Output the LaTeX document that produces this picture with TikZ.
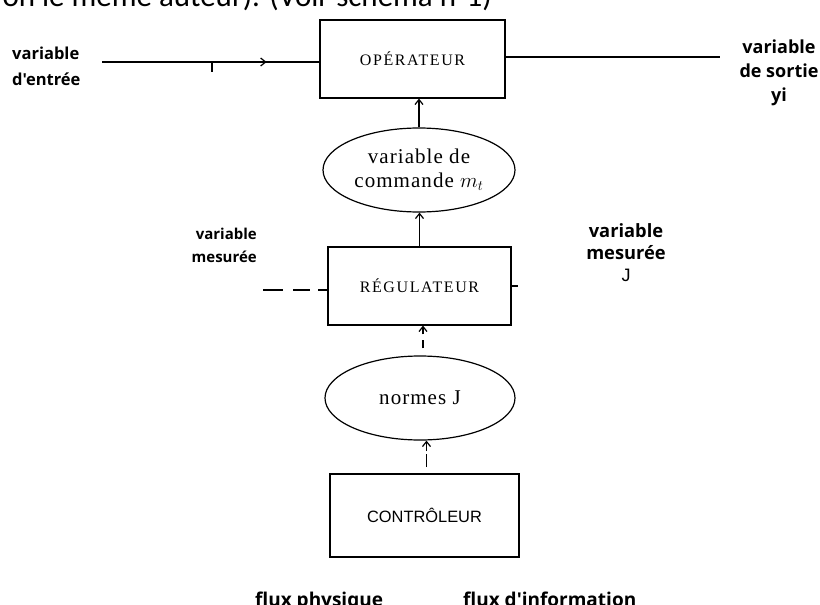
\documentclass[tikz,border=0pt]{standalone}
\usepackage{fontspec}
\setmainfont{Liberation Serif}
\newfontfamily\lblfont{Open Sans}
\newfontfamily\topfont{Carlito}
\newfontfamily\ctrlfont{Liberation Sans}
\newfontfamily\boxfont[LetterSpace=10]{Liberation Serif}
\newfontfamily\ellfont[LetterSpace=5]{Liberation Serif}
\usetikzlibrary{shapes.geometric,arrows.meta,decorations.markings}
\begin{document}
\begin{tikzpicture}[x=1pt,y=-1pt,
  scan/.style={line width=1.2pt},
  boxnode/.style={draw,scan,rectangle,inner sep=0pt,font=\boxfont\fontsize{16}{18}\selectfont},
  ellnode/.style={draw,scan,ellipse,inner sep=0pt,align=center,font=\ellfont\fontsize{21}{24}\selectfont},
  lbl/.style={inner sep=0pt},
  barb/.style={-{Straight Barb[length=5pt,width=8pt]}},
]
\clip (0,0) rectangle (820,605);
\fill[white] (0,0) rectangle (820,605);

% top clipped text
\node[lbl,anchor=base east,font=\topfont\fontsize{31}{36}\selectfont] (topTxt) at (492,6) {on le même auteur). (Voir schéma n°1)};

% blocks
\node[boxnode,minimum width=185pt,minimum height=78pt] (op) at (412.5,59) {OPÉRATEUR};
\node[ellnode,minimum width=192pt,minimum height=84pt] (cmd) at (419,170) {variable de\\commande $m_t$};
\node[boxnode,minimum width=183pt,minimum height=78pt] (reg) at (419.5,286) {RÉGULATEUR};
\node[ellnode,minimum width=190pt,minimum height=84pt] (norm) at (420,398) {normes J};
\node[draw,line width=2pt,rectangle,inner sep=0pt,minimum width=189pt,minimum height=83pt,font=\ctrlfont\fontsize{16.4}{20}\selectfont] (ctrl) at (424.5,515.5) {CONTRÔLEUR};

% input line
\coordinate (inL) at (102,62);
\coordinate (tickT) at (212,62);
\coordinate (tickB) at (212,72);
\draw[scan,postaction={decorate},decoration={markings,mark=at position 0.757 with {\arrow{Straight Barb[length=5pt,width=8pt]}}}] (inL) -- (inL -| op.west);
\draw[scan] (tickT) -- (tickB);

% output line
\coordinate (outR) at (720,57);
\draw[scan] (op.east |- outR) -- (outR);

% vertical connectors
\draw[scan,barb] (cmd.north) -- (cmd.north |- op.south);
\draw[scan,barb] (reg.north) -- (reg.north |- cmd.south);
\draw[scan,barb,dash pattern=on 0pt off 7pt on 8pt off 6pt on 40pt] ([xshift=3pt]norm.north) -- ([xshift=3pt]norm.north |- reg.south);
\draw[scan,barb,dash pattern=on 0pt off 6pt on 13pt off 3pt on 40pt] ([xshift=2pt]ctrl.north) -- ([xshift=2pt]ctrl.north |- norm.south);

% measured variable (left) dashed input
\coordinate (measIn) at (263,290);
\draw[scan,dash pattern=on 20pt off 10pt on 17pt off 8pt on 12pt] (measIn) -- (measIn -| reg.west);
\coordinate (regR) at (518,286);
\draw[scan] (reg.east) -- (regR);

% labels
\node[lbl,anchor=north west,align=left,font=\lblfont\bfseries\fontsize{16.5}{26}\selectfont] (inLbl) at (12,46.5) {variable\\d'entrée};
\node[lbl,anchor=north,align=center,font=\lblfont\bfseries\fontsize{18}{24}\selectfont] (outLbl) at (779,39.5) {variable\\de sortie\\yi};
\node[lbl,anchor=north east,align=right,font=\lblfont\bfseries\fontsize{15}{23}\selectfont] (measLLbl) at (257,228) {variable\\mesurée};
\node[lbl,anchor=north,align=center,font=\lblfont\bfseries\fontsize{18.3}{22}\selectfont] (measRLbl) at (626,223.5) {variable\\mesurée\\{\ctrlfont\mdseries\fontsize{18}{20}\selectfont J}};
\node[lbl,anchor=base west,font=\lblfont\bfseries\fontsize{19}{23}\selectfont] (fluxP) at (255,606) {flux physique};
\node[lbl,anchor=base west,font=\lblfont\bfseries\fontsize{19}{23}\selectfont] (fluxI) at (463,606) {flux d'information};
\end{tikzpicture}
\end{document}
